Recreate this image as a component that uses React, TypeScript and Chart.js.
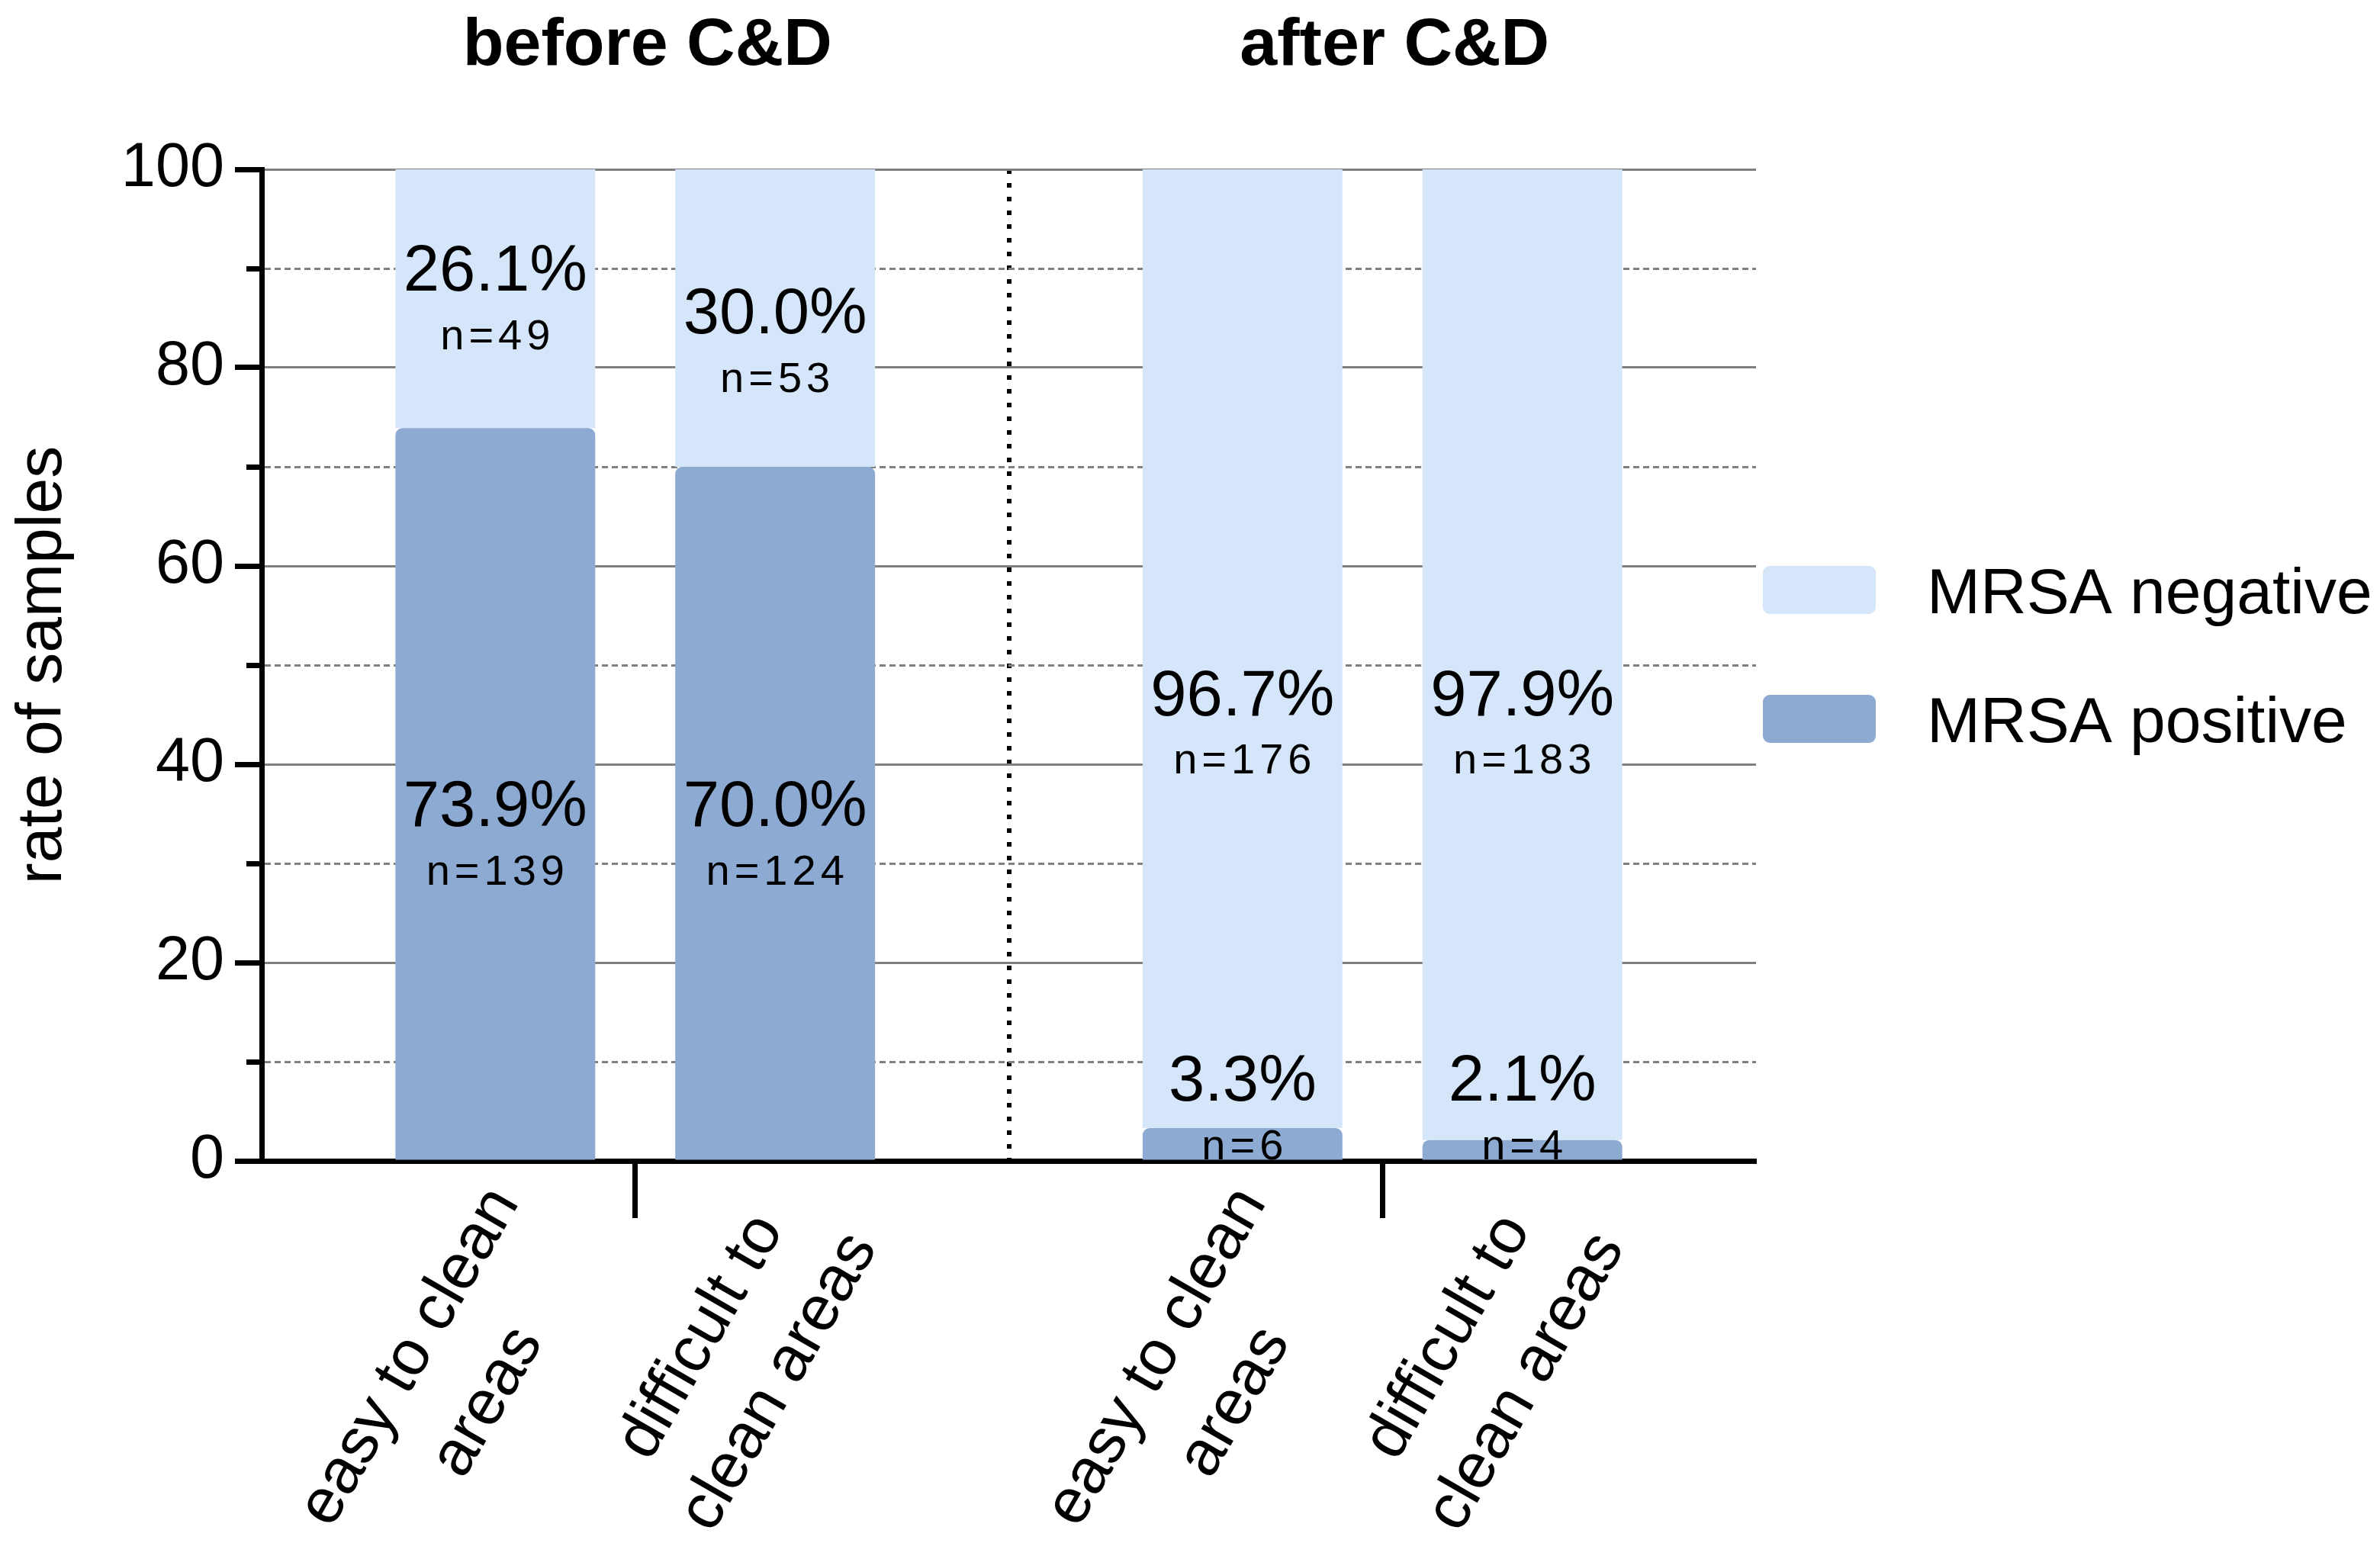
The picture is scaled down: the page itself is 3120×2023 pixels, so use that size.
import React, { useEffect, useRef } from 'react';
import { Chart, registerables } from 'chart.js';

Chart.register(...registerables);

// ---------- data ----------
const groups = ['before C&D', 'after C&D'];
const areaTypes = [
  ['easy to clean', 'areas'],
  ['difficult to', 'clean areas'],
];
const seriesNames = ['MRSA negative', 'MRSA positive'];
const easyPositive = [73.9, 3.3];
const easyNegative = [26.1, 96.7];
const difficultPositive = [70.0, 2.1];
const difficultNegative = [30.0, 97.9];
const easyPositiveN = [139, 6];
const easyNegativeN = [49, 176];
const difficultPositiveN = [124, 4];
const difficultNegativeN = [53, 183];
const yTickLabels = [0, 20, 40, 60, 80, 100];

// ---------- styles ----------
const FONT = "'Liberation Sans', Arial, sans-serif";
const NEG_COLOR = '#D6E6FA';
const POS_COLOR = '#8CAAD2';

const overlayPlugin = {
  id: 'overlay',
  afterDraw(chart: any, _args: any, opts: any) {
    const { ctx, chartArea, scales } = chart;
    const y = scales.y;
    ctx.save();

    // minor y ticks (shorter)
    ctx.strokeStyle = '#000';
    ctx.lineWidth = 7;
    y.ticks.forEach((t: any) => {
      if (!yTickLabels.includes(t.value)) {
        const py = Math.round(y.getPixelForValue(t.value)) + 0.5;
        ctx.beginPath();
        ctx.moveTo(chartArea.left - 20, py);
        ctx.lineTo(chartArea.left, py);
        ctx.stroke();
      }
    });

    // value labels inside bars
    ctx.fillStyle = '#000';
    ctx.textAlign = 'center';
    ctx.textBaseline = 'alphabetic';
    chart.data.datasets.forEach((ds: any, i: number) => {
      const meta = chart.getDatasetMeta(i);
      meta.data.forEach((bar: any, j: number) => {
        const cy = y.getPixelForValue(opts.anchors[i][j]);
        ctx.font = `85px ${FONT}`;
        (ctx as any).letterSpacing = '0px';
        ctx.fillText(ds.data[j].toFixed(1) + '%', bar.x, cy + 0.358 * 85);
        ctx.font = `56px ${FONT}`;
        (ctx as any).letterSpacing = '6px';
        ctx.fillText('n=' + ds.counts[j], bar.x + 3, cy + 87 + 0.358 * 56);
      });
    });
    (ctx as any).letterSpacing = '0px';

    // rotated x labels under each bar
    ctx.font = `84px ${FONT}`;
    ctx.textBaseline = 'middle';
    ctx.textAlign = 'center';
    const axisY = chartArea.bottom;
    [
      [0, 0],
      [2, 1],
    ].forEach(([di, li]) => {
      const lines = areaTypes[li];
      const W = Math.max(...lines.map((l: string) => ctx.measureText(l).width));
      chart.getDatasetMeta(di).data.forEach((bar: any) => {
        ctx.save();
        ctx.translate(bar.x + 12, axisY + 43);
        ctx.rotate(-Math.PI / 3);
        lines.forEach((l: string, k: number) => ctx.fillText(l, -W / 2, k * 118));
        ctx.restore();
      });
    });

    // legend
    const midY = (chartArea.top + chartArea.bottom) / 2 - 14;
    const colors = [NEG_COLOR, POS_COLOR];
    seriesNames.forEach((name, k) => {
      const yc = midY + (k - 0.5) * 169;
      const x = chartArea.right + 9;
      ctx.fillStyle = colors[k];
      ctx.beginPath();
      (ctx as any).roundRect(x, yc - 31.5, 148, 63, 9);
      ctx.fill();
      ctx.fillStyle = '#000';
      ctx.font = `84px ${FONT}`;
      ctx.textAlign = 'left';
      ctx.textBaseline = 'alphabetic';
      ctx.fillText(name, x + 215, yc + 0.358 * 84);
    });

    ctx.restore();
  },
};

export default function App() {
  const ref = useRef<HTMLCanvasElement | null>(null);

  useEffect(() => {
    if (!ref.current) return;
    const topRadius = { topLeft: 9, topRight: 9, bottomLeft: 0, bottomRight: 0 };
    const chart = new Chart(ref.current, {
      type: 'bar',
      data: {
        labels: groups,
        datasets: [
          { label: seriesNames[1], data: easyPositive, counts: easyPositiveN, stack: 'easy', backgroundColor: POS_COLOR, borderRadius: topRadius, borderSkipped: false } as any,
          { label: seriesNames[0], data: easyNegative, counts: easyNegativeN, stack: 'easy', backgroundColor: NEG_COLOR } as any,
          { label: seriesNames[1], data: difficultPositive, counts: difficultPositiveN, stack: 'difficult', backgroundColor: POS_COLOR, borderRadius: topRadius, borderSkipped: false } as any,
          { label: seriesNames[0], data: difficultNegative, counts: difficultNegativeN, stack: 'difficult', backgroundColor: NEG_COLOR } as any,
        ],
      },
      options: {
        animation: false,
        responsive: true,
        maintainAspectRatio: false,
        devicePixelRatio: 1,
        datasets: { bar: { categoryPercentage: 0.749, barPercentage: 0.714 } },
        layout: { padding: { left: 0, top: 0, right: 818, bottom: 0 } },
        plugins: {
          legend: { display: false },
          tooltip: { enabled: false },
          overlay: {
            anchors: [
              [36.1, 8.4],
              [90.1, 47.3],
              [36.1, 8.4],
              [85.8, 47.3],
            ],
          },
        } as any,
        scales: {
          x: {
            type: 'category',
            position: 'bottom',
            stacked: true,
            offset: true,
            grid: {
              offset: false,
              drawOnChartArea: false,
              drawTicks: true,
              tickLength: 75,
              tickWidth: 7,
              tickColor: '#000',
              color: '#000',
            },
            border: { display: true, color: '#000', width: 7 },
            ticks: { display: false },
            afterFit: (s: any) => {
              s.height = 501;
            },
          },
          x2: {
            type: 'category',
            position: 'top',
            offset: true,
            grid: {
              offset: true,
              drawOnChartArea: true,
              drawTicks: false,
              lineWidth: 6,
              color: (c: any) => (c.index === 1 ? '#000' : 'rgba(0,0,0,0)'),
            },
            border: { display: false, dash: [6, 12] },
            ticks: {
              color: '#000',
              padding: 108,
              labelOffset: 16,
              font: { family: FONT, size: 88, weight: 'bold' },
            },
            afterFit: (s: any) => {
              s.height = 222;
            },
          },
          y: {
            type: 'linear',
            position: 'left',
            stacked: true,
            min: 0,
            max: 100,
            ticks: {
              stepSize: 10,
              color: '#000',
              padding: 14,
              font: { family: FONT, size: 81 },
              callback: (v: any) => (yTickLabels.includes(v) ? String(v) : ''),
            },
            grid: {
              color: '#808080',
              lineWidth: 3,
              drawTicks: true,
              tickLength: 35,
              tickWidth: 7,
              tickColor: (c: any) => (c.tick && yTickLabels.includes(c.tick.value) ? '#000' : 'rgba(0,0,0,0)'),
            },
            border: {
              display: true,
              color: '#000',
              width: 7,
              dash: (c: any) => (c.tick && !yTickLabels.includes(c.tick.value) ? [8, 5] : []),
            },
            title: {
              display: true,
              text: 'rate of samples',
              color: '#000',
              font: { family: FONT, size: 84 },
              padding: { top: 6, bottom: 0 },
            },
            afterFit: (s: any) => {
              s.width = 343;
            },
          },
        },
      } as any,
      plugins: [overlayPlugin],
    });
    return () => chart.destroy();
  }, []);

  return (
    <div style={{ position: 'fixed', left: 0, top: 0, width: 3120, height: 2023, background: '#fff' }}>
      <canvas ref={ref} />
    </div>
  );
}
